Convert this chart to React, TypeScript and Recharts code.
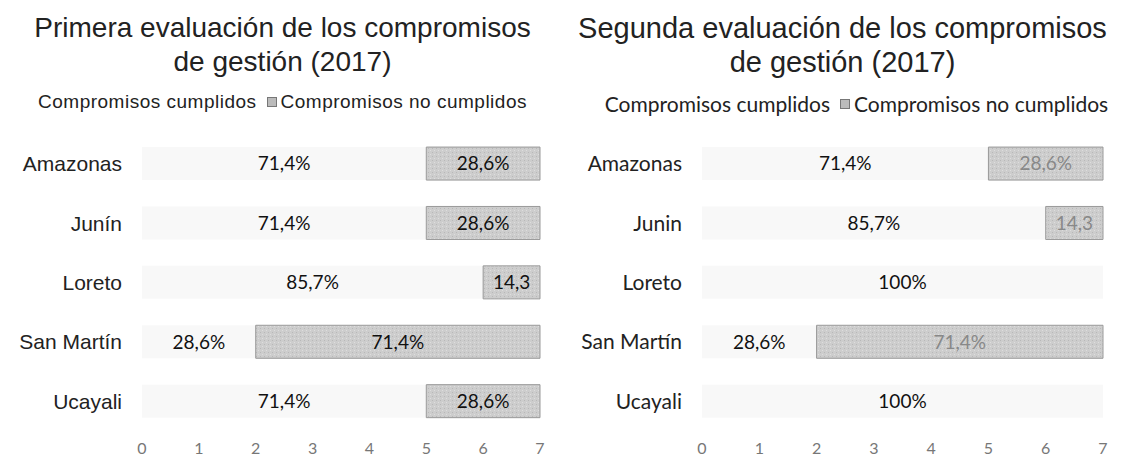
import { BarChart, Bar, XAxis, YAxis, LabelList } from 'recharts';

const regions = ['Amazonas', 'Junín', 'Loreto', 'San Martín', 'Ucayali'];
const regions2 = ['Amazonas', 'Junin', 'Loreto', 'San Martín', 'Ucayali'];

// counts out of 7 compromisos
const cumplidos1 = [5, 5, 6, 2, 5];
const noCumplidos1 = [2, 2, 1, 5, 2];
const cumplidosLbl1 = ['71,4%', '71,4%', '85,7%', '28,6%', '71,4%'];
const noCumplidosLbl1 = ['28,6%', '28,6%', '14,3', '71,4%', '28,6%'];

const cumplidos2 = [5, 6, 7, 2, 7];
const noCumplidos2 = [2, 1, 0, 5, 0];
const cumplidosLbl2 = ['71,4%', '85,7%', '100%', '28,6%', '100%'];
const noCumplidosLbl2 = ['28,6%', '14,3', '', '71,4%', ''];

const ticks = [0, 1, 2, 3, 4, 5, 6, 7];

const build = (names: string[], c: number[], n: number[], lc: string[], ln: string[]) =>
  names.map((region, i) => ({
    region,
    cumplidos: c[i],
    noCumplidos: n[i],
    labelC: lc[i],
    labelN: ln[i],
  }));

const data1 = build(regions, cumplidos1, noCumplidos1, cumplidosLbl1, noCumplidosLbl1);
const data2 = build(regions2, cumplidos2, noCumplidos2, cumplidosLbl2, noCumplidosLbl2);

interface PanelProps {
  data: ReturnType<typeof build>;
  title: string[];
  titleSize: number;
  left: number;
  rightMargin: number;
  catFont: string;
  legendFont: string;
  legendSize: number;
  legendSpacing: number;
  legendShift: number;
  nLabelColor: string;
}

const Panel = ({
  data, title, titleSize, left, rightMargin, catFont, legendFont, legendSize, legendSpacing, legendShift, nLabelColor,
}: PanelProps) => (
  <div style={{ position: 'absolute', left, top: 0, width: 560, height: 461 }}>
    <div
      style={{
        position: 'absolute',
        top: 11,
        left: 0,
        width: 565,
        textAlign: 'center',
        fontFamily: '"Liberation Sans", Arial, sans-serif',
        fontSize: titleSize,
        lineHeight: '34px',
        color: '#222',
      }}
    >
      {title.map((t) => (
        <div key={t}>{t}</div>
      ))}
    </div>
    <div
      style={{
        position: 'absolute',
        top: 91,
        left: legendShift,
        width: 565,
        display: 'flex',
        justifyContent: 'center',
        alignItems: 'center',
        fontFamily: legendFont,
        fontSize: legendSize,
        letterSpacing: legendSpacing,
        color: '#222',
      }}
    >
      <span>Compromisos cumplidos</span>
      <span
        style={{
          display: 'inline-block',
          width: 8,
          height: 8,
          background: '#bbb',
          border: '1px solid #777',
          marginLeft: 10,
          marginRight: 4,
        }}
      />
      <span>Compromisos no cumplidos</span>
    </div>
    <BarChart
      width={560}
      height={461}
      data={data}
      layout="vertical"
      barCategoryGap="22%"
      margin={{ top: 134, right: rightMargin, bottom: 0, left: 0 }}
    >
      <defs>
        <pattern id={`grain${left}`} width="4" height="4" patternUnits="userSpaceOnUse">
          <rect width="4" height="4" fill="#cdcdcd" />
          <rect x="0" y="0" width="1" height="1" fill="#b8b8b8" />
          <rect x="2" y="2" width="1" height="1" fill="#dedede" />
        </pattern>
      </defs>
      <XAxis
        type="number"
        domain={[0, 7]}
        ticks={ticks}
        axisLine={false}
        tickLine={false}
        tickMargin={6}
        height={30}
        tick={{ fill: '#777', fontSize: 16, fontFamily: 'Lato, sans-serif' }}
      />
      <YAxis
        type="category"
        dataKey="region"
        width={142}
        axisLine={false}
        tickLine={false}
        tickMargin={14}
        tick={{ fill: '#222', fontSize: 21, fontFamily: catFont }}
      />
      <Bar dataKey="cumplidos" stackId="a" fill="#f8f8f8" isAnimationActive={false}>
        <LabelList
          dataKey="labelC"
          position="center"
          fill="#111"
          fontSize={19}
          fontFamily="Lato, sans-serif"
        />
      </Bar>
      <Bar
        dataKey="noCumplidos"
        stackId="a"
        fill={`url(#grain${left})`}
        stroke="#999"
        strokeWidth={1}
        isAnimationActive={false}
      >
        <LabelList
          dataKey="labelN"
          position="center"
          fill={nLabelColor}
          fontSize={19}
          fontFamily="Lato, sans-serif"
        />
      </Bar>
    </BarChart>
  </div>
);

export default function App() {
  return (
    <div style={{ position: 'absolute', left: 0, top: 0, width: 1121, height: 461, background: '#fff' }}>
      <Panel
        data={data1}
        title={['Primera evaluación de los compromisos', 'de gestión (2017)']}
        titleSize={28}
        left={0}
        rightMargin={20}
        catFont='"Liberation Sans", Arial, sans-serif'
        legendFont='"Liberation Sans", Arial, sans-serif'
        legendSize={19}
        legendSpacing={0.5}
        legendShift={0}
        nLabelColor="#111"
      />
      <Panel
        data={data2}
        title={['Segunda evaluación de los compromisos', 'de gestión (2017)']}
        titleSize={29}
        left={560}
        rightMargin={17}
        catFont="Lato, sans-serif"
        legendFont="Lato, sans-serif"
        legendSize={21}
        legendSpacing={0}
        legendShift={14}
        nLabelColor="#888"
      />
    </div>
  );
}
